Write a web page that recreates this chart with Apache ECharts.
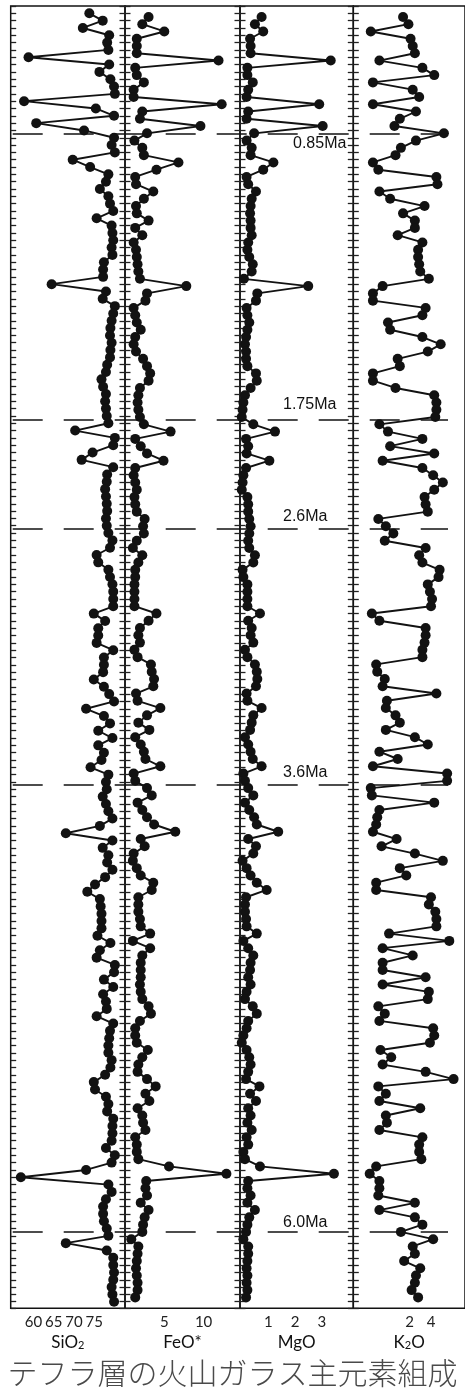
<!DOCTYPE html>
<html><head><meta charset="utf-8">
<script src="https://cdn.jsdelivr.net/npm/echarts@6/dist/echarts.min.js"></script>
<style>html,body{margin:0;padding:0;background:#fff}#c{width:465px;height:1391px}</style>
</head><body><div id="c"></div>
<script>
// Sample order (top = youngest) ; one value per tephra sample
const sio2 = [73.8,77.1,72.2,78.7,78.2,78.5,58.8,78.7,76.3,79.0,
79.9,80.1,57.7,75.4,79.9,60.7,72.5,79.9,79.3,80.1,
69.7,74.0,78.5,77.9,76.4,78.5,78.9,79.7,75.6,79.3,
79.5,79.7,79.3,79.5,77.4,77.2,77.2,64.5,77.9,77.1,
80.1,79.7,79.3,79.0,78.9,79.3,79.0,78.9,78.2,77.9,
76.8,77.2,77.9,77.7,77.9,78.1,78.5,70.3,80.1,79.7,
74.6,71.9,79.7,78.2,78.1,77.7,77.9,78.1,78.2,77.9,
78.1,78.5,79.5,78.9,75.6,76.0,78.5,78.9,79.5,79.7,
79.7,79.7,74.9,77.7,76.0,76.0,75.6,79.7,77.4,77.4,
77.2,74.9,77.4,78.7,79.9,73.0,77.4,78.9,76.0,79.5,
76.0,77.4,76.8,74.1,78.5,77.9,78.1,77.1,77.9,78.5,
79.5,76.4,68.0,79.5,77.1,78.5,78.2,79.5,77.7,75.2,
73.3,76.4,76.6,76.8,76.8,76.8,75.8,79.0,76.4,75.6,
80.1,79.9,77.4,79.7,77.2,77.9,78.1,75.6,79.7,78.9,
78.7,78.5,78.5,79.3,79.0,77.7,74.9,75.2,77.9,78.5,
78.2,79.7,79.5,79.5,79.3,77.9,80.1,79.3,73.0,56.9,
78.5,79.3,77.9,77.2,77.2,77.4,78.1,78.5,68.0,78.1,
79.7,79.7,79.9,79.7,79.3,79.5,79.9];

const feo = [3.0,2.2,5.0,1.5,1.5,1.5,11.9,1.3,1.5,2.4,
1.1,1.1,12.3,2.2,1.9,9.6,2.8,1.2,2.2,2.4,
6.8,4.0,1.3,1.4,3.6,2.4,1.4,1.5,3.0,1.3,
2.2,1.1,1.4,1.5,1.6,1.7,1.9,7.8,2.8,2.6,
1.1,1.3,1.5,2.0,1.3,1.1,1.4,2.3,2.8,3.2,
3.0,1.9,1.7,1.6,1.7,1.9,2.4,5.8,1.3,2.0,
2.8,4.9,1.3,1.1,1.3,1.5,1.2,1.3,1.5,2.5,
2.3,2.4,1.5,1.0,2.2,1.7,1.3,1.3,1.2,1.2,
1.2,1.2,4.0,3.0,1.9,1.7,1.9,1.2,1.6,3.3,
3.4,3.7,3.6,1.4,1.6,4.5,2.8,1.7,3.1,1.3,
2.0,2.4,2.6,4.5,1.1,1.3,2.8,3.4,1.6,2.2,
2.8,3.7,6.4,2.0,2.5,1.1,1.0,1.5,2.0,3.6,
3.4,1.7,1.7,1.7,1.9,2.0,3.2,1.0,3.2,2.2,
2.0,2.0,2.0,1.9,2.0,2.2,3.0,3.3,1.9,1.3,
1.3,1.5,2.9,2.2,1.7,1.6,2.8,3.9,2.6,3.1,
1.6,2.2,2.3,2.6,1.3,1.5,1.5,1.7,5.6,12.9,
2.7,2.6,2.8,2.0,3.0,2.5,2.3,2.2,0.8,1.7,
1.6,1.5,1.4,1.5,1.6,1.6,1.3];

const mgo = [0.75,0.50,0.81,0.32,0.34,0.34,3.33,0.22,0.22,0.42,
0.25,0.19,2.90,0.25,0.19,3.03,0.47,0.19,0.38,0.34,
1.19,0.81,0.19,0.25,0.54,0.38,0.34,0.32,0.34,0.34,
0.38,0.25,0.22,0.29,0.42,0.38,0.09,2.49,0.59,0.54,
0.19,0.22,0.29,0.22,0.17,0.13,0.17,0.17,0.22,0.54,
0.57,0.34,0.13,0.07,0.04,0.01,0.44,1.25,0.17,0.25,
0.19,1.04,0.17,0.07,0.04,0.01,0.22,0.25,0.25,0.29,
0.34,0.29,0.25,0.29,0.50,0.44,0.04,0.07,0.22,0.22,
0.22,0.22,0.69,0.25,0.38,0.34,0.44,0.13,0.22,0.50,
0.57,0.59,0.54,0.19,0.22,0.75,0.44,0.38,0.32,0.13,
0.25,0.34,0.42,0.75,0.07,0.13,0.25,0.44,0.13,0.29,
0.47,0.57,1.37,0.25,0.54,0.44,0.04,0.19,0.34,0.57,
0.94,0.17,0.13,0.13,0.17,0.19,0.57,0.07,0.25,0.44,
0.34,0.32,0.25,0.34,0.19,0.13,0.42,0.57,0.25,0.19,
0.07,0.01,0.19,0.29,0.34,0.25,0.17,0.67,0.32,0.54,
0.25,0.34,0.22,0.38,0.19,0.25,0.07,0.13,0.69,3.45,
0.25,0.22,0.34,0.22,0.50,0.29,0.22,0.17,0.07,0.25,
0.25,0.22,0.19,0.22,0.19,0.22,0.17];

const k2o = [1.4,1.9,-1.6,2.1,2.3,2.5,-0.8,3.2,4.3,-1.4,
2.3,2.9,-1.4,2.6,1.1,0.6,5.2,2.6,1.2,0.7,
-1.4,-0.9,4.5,4.6,-0.8,0.2,3.4,1.4,2.5,2.5,
0.9,3.2,2.8,2.8,2.9,3.0,3.8,-0.5,-1.4,-1.4,
3.5,3.2,0.0,0.2,3.2,4.9,3.7,0.9,1.1,-1.4,
-1.4,0.7,4.3,4.5,4.5,4.4,-0.8,0.0,3.2,0.2,
4.3,-0.5,3.2,4.2,5.1,4.3,3.4,3.5,3.7,-0.9,
-0.2,0.5,-0.3,3.5,2.9,3.2,4.8,4.7,3.7,3.9,
4.1,4.0,-1.5,-0.8,3.5,3.5,3.4,3.2,3.2,-1.1,
-1.0,-0.3,-0.5,4.5,-0.1,-0.2,0.7,1.1,-0.2,2.5,
3.7,-0.8,0.9,-1.4,5.5,5.5,-1.6,-1.5,4.3,-0.8,
-1.0,-1.1,-1.4,0.8,-0.6,2.5,5.1,1.1,1.7,-1.1,
-1.1,4.0,3.8,4.4,4.5,4.5,0.1,5.7,-0.5,2.3,
-0.5,-0.5,3.5,-0.5,3.8,3.7,-0.9,-0.3,-0.8,4.2,
4.3,3.9,-0.7,0.3,-0.5,3.5,6.1,-0.9,-0.2,-0.8,
3.0,-0.2,-0.1,-0.8,3.2,2.9,2.9,3.1,-1.1,-1.7,
-0.8,-0.8,-0.9,2.5,-0.8,2.5,3.2,1.2,4.2,2.3,
2.5,1.5,3.0,2.6,2.5,2.2,2.8];

// age boundaries, in sample-order units
const boundaryAges = ['0.85Ma','1.75Ma','2.6Ma','3.6Ma','6.0Ma'];
const boundaryPos  = [16.4, 55.5, 70.4, 105.4, 166.5];

const siTicks = [60,65,70,75];
const feTicks = [5,10];
const mgTicks = [1,2,3];
const kTicks  = [2,4];

const chart = echarts.init(document.getElementById('c'), null, {renderer:'canvas'});
const TOP = 6, H = 1302.3;
const INK = '#121212';

const panels = [
  {left:10.7, width:114.3, min:54.4, max:82.6, ticks:siTicks, name:'SiO{s|2}', data:sio2, ymin:-1, ymax:176.9, cross:false},
  {left:125, width:115, min:0, max:14.63, ticks:feTicks, name:'FeO*', data:feo, ymin:-1.5, ymax:177.5, cross:true},
  {left:240, width:113.3, min:-0.056, max:4.172, ticks:mgTicks, name:'MgO', data:mgo, ymin:-1.5, ymax:177.5, cross:true},
  {left:353.3, width:112.7, min:-3.226, max:7.161, ticks:kTicks, name:'K{s|2}O', data:k2o, ymin:-1.5, ymax:177.5, cross:true}
];

const grid = [], xAxis = [], yAxis = [], series = [];
panels.forEach((p, i) => {
  grid.push({left:p.left, top:TOP, width:p.width, height:H, show:true, borderColor:INK, borderWidth:1.5, backgroundColor:'transparent'});
  xAxis.push({
    type:'value', gridIndex:i, min:p.min, max:p.max, position:'bottom',
    axisLine:{show:false, onZero:false}, axisTick:{show:false}, splitLine:{show:false},
    axisLabel:{customValues:p.ticks, margin:6, fontFamily:'Lato', fontSize:15, color:'#222'},
    name:p.name, nameLocation:'middle', nameGap:24,
    nameTextStyle:{fontFamily:'Lato', fontSize:17, color:'#111',
      rich:{s:{fontFamily:'Lato', fontSize:11, color:'#111', padding:[6,0,0,0]}}}
  });
  const tickBase = {type:'value', gridIndex:i, inverse:true, min:-1, max:176.9, interval:1, position:'left', offset:0,
    axisLine:{show:false, onZero:false}, axisLabel:{show:false}, splitLine:{show:false}};
  yAxis.push(Object.assign({}, tickBase, {axisTick:{show:true, inside:true, length:5.5, lineStyle:{color:'#222', width:1.3}}}));
  if (p.cross) {
    yAxis.push(Object.assign({}, tickBase, {axisTick:{show:true, inside:false, length:5.5, lineStyle:{color:'#222', width:1.3}}}));
  }
  yAxis.push({type:'value', gridIndex:i, inverse:true, min:p.ymin, max:p.ymax, show:false, axisLine:{onZero:false}});
  const dataAxis = yAxis.length - 1;
  series.push({
    type:'line', xAxisIndex:i, yAxisIndex:dataAxis,
    data:p.data.map((v, k) => [v, k]),
    symbol:'circle', symbolSize:10, showSymbol:true, showAllSymbol:true, clip:false,
    lineStyle:{color:INK, width:1.9}, itemStyle:{color:INK}, z:3, animation:false
  });
});

// overlay for age boundaries
grid.push({left:12.7, right:17, top:TOP, height:H, show:false});
xAxis.push({type:'value', gridIndex:4, min:0, max:1, show:false});
yAxis.push({type:'value', gridIndex:4, inverse:true, min:-1, max:176.9, show:false});
const overlayY = yAxis.length - 1;
series.push({
  type:'line', xAxisIndex:4, yAxisIndex:overlayY, data:[], animation:false,
  markLine:{symbol:['none','none'], silent:true, animation:false, label:{show:false},
    lineStyle:{type:[30,21], color:INK, width:1.7},
    data:boundaryPos.map(p => ({yAxis:p}))}
});

chart.setOption({
  animation:false,
  backgroundColor:'#fff',
  title:{text:'テフラ層の火山ガラス主元素組成', left:'center', top:1353,
    textStyle:{fontFamily:'Noto Sans CJK JP', fontSize:30, fontWeight:300, color:'#4a4a4a'}},
  grid, xAxis, yAxis, series
});

// boundary labels placed via the overlay scale
const labelX  = [293, 283, 283, 283, 283];
const labelDy = [10, -15, -12, -12, -10];
const graphic = boundaryAges.map((t, i) => {
  const y = chart.convertToPixel({xAxisIndex:4, yAxisIndex:overlayY}, [0, boundaryPos[i]])[1];
  return {type:'text', x:labelX[i], y:y + labelDy[i], z:10,
    style:{text:t, fontFamily:'Liberation Sans', fontSize:16, fill:'#111', align:'left', verticalAlign:'middle', textAlign:'left', textVerticalAlign:'middle'}};
});
chart.setOption({graphic});
</script></body></html>
